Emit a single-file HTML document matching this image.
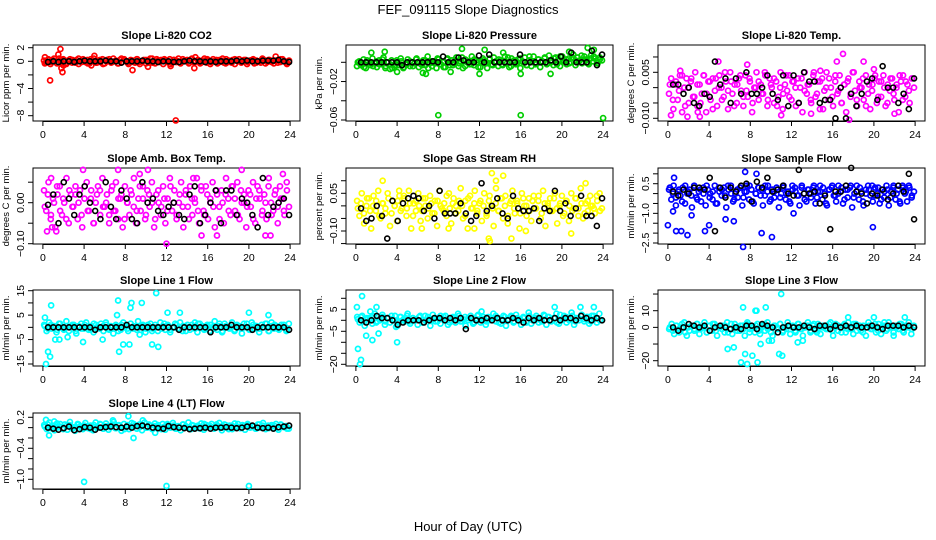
<!DOCTYPE html>
<html><head><meta charset="utf-8">
<style>
html,body{margin:0;padding:0;background:#fff;}
svg{display:block;font-family:"Liberation Sans",Arial,sans-serif;}
</style></head>
<body>
<svg id="chart" width="936" height="540" viewBox="0 0 936 540" xmlns="http://www.w3.org/2000/svg">
<text x="468" y="14" text-anchor="middle" font-size="13">FEF_091115  Slope Diagnostics</text>
<text x="468" y="531" text-anchor="middle" font-size="13">Hour of Day (UTC)</text>
</svg>
<script>
// ---- data (colored = 1-min slopes, black = averaged slopes) ----
const xTicks = [0,4,8,12,16,20,24];
const co2Band = [0.1,-0.2,0.3,-0.4,0.2,0.0,-0.3,0.4,-0.1,0.2,-0.3,0.1,0.3,-0.2,0.0,0.2,-0.4,0.1,0.3,-0.1,0.2,-0.3,0.0,0.4,-0.2,0.1,-0.1,0.3,-0.3,0.2,0.0,-0.2,0.4,0.1,-0.3,0.2,-0.1,0.3,0.0,-0.4,0.2,0.1,-0.2,0.3,-0.1,0.0,0.2,-0.3,0.1,0.4,-0.2,0.0,0.3,-0.1,0.2,-0.4,0.1,0.0,0.3,-0.2,0.2,-0.1,0.4,-0.3,0.0,0.1,0.2,-0.2,0.3,-0.1,0.0,0.2,-0.3,0.1,0.4,-0.2,0.1,-0.1,0.3,0.0,-0.3,0.2,0.1,-0.2,0.3,-0.1,0.0,0.2,-0.4,0.1,0.3,-0.2,0.0,0.2,-0.1,0.1,0.2,-0.3,0.1,0.0,-0.2,0.3,0.1,-0.1,0.2,0.0,-0.3,0.1,0.2,-0.1,0.3,0.0,-0.2,0.1];
const co2Band2 = [-0.3,0.2,-0.1,0.4,-0.2,0.1,0.3,-0.4,0.0,0.2,-0.2,0.4,-0.1,0.1,-0.3,0.3,0.0,-0.2,0.2,-0.4,0.1,0.3,-0.1,0.0,-0.3,0.4,0.2,-0.2,0.1,-0.1,0.3,-0.4,0.0,0.2,-0.2,0.4,-0.3,0.1,0.0,0.3,-0.1,-0.4,0.2,0.1,-0.2,0.3,0.0,-0.3,0.4,-0.1,0.2,-0.2,0.1,0.3,-0.4,0.0,0.2,-0.1,0.4,-0.3,0.1,-0.2,0.3,0.0,-0.1,0.2,-0.4,0.1,0.3,-0.2,0.0,0.4,-0.3,0.2,-0.1,0.1,-0.2,0.3,0.0,-0.4];
const co2OutT = [0.2,0.7,1.5,1.7,1.8,1.9,5.0,8.7,10.2,12.9,12.4,14.8,22.6,14.7,2.0,4.7];
const co2OutV = [0.6,-2.8,1.0,1.8,-1.0,-1.6,0.8,-1.3,-0.8,-8.7,-0.7,0.6,0.7,-1.0,-0.6,-0.6];
const co2Black = [-0.1,0.0,-0.1,0.0,0.0,-0.1,0.0,0.1,0.0,0.0,0.0,0.1,0.0,0.0,-0.2,0.0,0.0,0.0,0.1,0.0,0.0,-0.1,0.0,0.0,-0.1,-0.1,0.0,0.1,0.0,0.0,-0.1,0.0,-0.1,0.0,0.0,0.0,0.1,0.0,0.1,0.0,0.0,0.1,0.1,0.1,0.2,0.0,-0.1];

const presBand = [-0.004,0.001,-0.002,0.003,-0.006,0.000,-0.003,0.004,-0.001,-0.005,0.002,-0.002,0.005,-0.004,0.000,-0.007,-0.006,-0.005,0.002,-0.003,0.001,-0.006,-0.002,0.003,-0.004,0.000,-0.001,0.004,-0.005,-0.002,0.002,-0.003,0.006,-0.001,-0.004,0.001,-0.006,0.003,-0.002,0.000,-0.005,0.004,-0.003,0.002,-0.001,0.005,-0.004,0.001,-0.006,0.003,0.000,-0.002,0.006,-0.003,0.002,-0.005,0.001,0.004,-0.001,-0.006,0.003,-0.002,0.005,0.000,-0.004,0.002,-0.003,0.006,-0.001,-0.005,0.004,0.000,-0.002,0.003,-0.006,0.001,0.005,-0.003,0.002,-0.004,0.006,-0.001,0.003,-0.005,0.001,0.004,-0.002,0.007,0.000,-0.003,0.005,0.002,-0.004,0.006,0.001,-0.002,0.004,0.000,0.008,-0.003,0.005,0.002,-0.001,0.006,0.003,-0.002,0.007,0.001,0.004,-0.001,0.005,0.002];
const presBand2 = [0.000,-0.003,-0.005,0.002,-0.001,-0.004,0.001,-0.002,0.003,-0.006,0.000,0.002,-0.003,-0.001,0.004,-0.005,-0.002,0.001,-0.004,0.003,0.000,-0.003,0.002,-0.006,0.001,-0.001,0.004,-0.002,-0.005,0.003,0.000,-0.003,0.002,-0.001,0.005,-0.004,0.001,-0.002,0.003,0.000,-0.005,0.002,-0.001,0.004,-0.003,0.001,0.003,-0.002,0.000,0.005,-0.004,0.002,-0.001,0.004,0.000,-0.003,0.006,0.001,-0.002,0.003,0.000,0.005,-0.001,0.002,0.004,-0.002,0.006,0.001,0.003,-0.001,0.005,0.002,0.000,0.007,0.003,-0.001,0.004,0.006,0.001,0.003];
const presOutT = [8.0,16.0,24.0,1.5,2.8,10.3,12.5,22.5,4.0,6.8,12.0,16.0,18.9,9.2,14.3,20.7,6.5,23.1];
const presOutV = [-0.055,-0.055,-0.058,0.010,0.011,0.014,0.013,0.015,-0.010,-0.012,-0.012,-0.012,-0.012,-0.010,0.010,0.011,-0.011,0.013];
const presBlack = [0.000,0.000,0.000,0.000,0.000,0.000,0.000,0.000,-0.003,0.000,0.000,0.000,0.000,0.000,0.001,0.000,0.006,0.000,0.000,0.005,0.002,0.000,0.000,0.007,0.000,0.008,0.000,0.000,0.000,0.000,0.000,0.008,0.000,0.000,0.000,0.000,0.000,0.002,0.000,0.006,0.000,0.010,0.000,0.000,0.000,0.012,-0.003,0.008];

const tempBand = [-0.002,0.003,-0.007,0.001,-0.004,0.004,-0.008,0.000,0.003,-0.005,0.002,-0.003,0.005,-0.006,0.001,-0.002,0.004,-0.008,0.002,-0.004,0.003,-0.001,-0.006,0.004,0.000,-0.003,0.002,-0.007,0.005,-0.002,0.001,-0.005,0.003,-0.001,-0.006,0.004,-0.003,0.002,-0.008,0.000,0.005,-0.004,0.001,-0.002,0.004,-0.006,0.003,0.000,-0.005,0.002,-0.003,0.005,-0.007,0.001,-0.001,0.004,-0.004,0.002,-0.006,0.003,0.000,-0.008,0.005,-0.002,0.001,-0.005,0.004,-0.003,0.002,-0.007,0.003,-0.001,0.005,-0.004,0.000,-0.006,0.002,-0.002,0.004,-0.005,0.001,-0.008,0.003,-0.003,0.005,-0.001,-0.006,0.002,0.000,-0.004,0.004,-0.002,-0.007,0.001,0.003,-0.005,0.002,-0.003,0.004,-0.006,0.001,-0.001,0.003,-0.004,0.000,-0.008,0.002,0.004,-0.003,0.001,-0.005,0.003,0.000];
const tempBand2 = [0.001,-0.004,0.002,-0.001,0.004,-0.006,0.000,0.003,-0.003,0.001,-0.005,0.004,-0.002,0.002,-0.007,0.003,0.000,-0.004,0.005,-0.001,0.002,-0.006,0.001,0.004,-0.003,-0.001,0.003,-0.005,0.000,0.002,-0.002,0.005,-0.004,0.001,0.003,-0.006,0.000,-0.002,0.004,-0.003,0.002,0.000,-0.005,0.003,-0.001,0.001,-0.004,0.005,-0.002,0.002,-0.007,0.000,0.003,-0.003,0.004,-0.001,-0.005,0.001,0.002,-0.002,0.005,-0.004,0.000,0.003,-0.006,0.001,-0.001,0.004,-0.003,0.002,0.000,-0.005,0.003,-0.002,0.001,0.004,-0.004,0.002,-0.001,0.003];
const tempOutT = [4.9,7.7,17.0,16.4,19.0,1.9,3.1,17.6,1.2,14.8,2.9,20.0,11.0,13.9,22.0,0.3];
const tempOutV = [0.0085,0.0075,0.011,0.0085,0.0085,-0.0095,-0.0095,-0.0105,0.0055,0.0055,-0.008,0.0060,-0.009,-0.0085,-0.0085,-0.009];
const tempBlack = [0.001,0.001,-0.002,0.000,-0.005,-0.006,-0.002,-0.003,0.0085,0.001,0.003,-0.005,0.003,-0.002,0.005,-0.002,-0.002,0.000,0.004,-0.002,-0.004,0.004,-0.006,0.004,-0.005,0.005,0.002,0.002,-0.005,-0.004,-0.004,-0.010,0.000,-0.010,-0.002,-0.006,-0.002,0.002,0.003,-0.004,0.007,0.000,0.000,-0.005,-0.002,-0.007,0.003];

const ambBand = [0.03,-0.02,0.05,-0.04,0.01,-0.06,0.02,0.04,-0.03,0.00,0.06,-0.05,0.02,-0.01,0.04,-0.04,0.03,-0.06,0.01,0.05,-0.02,0.03,-0.05,0.00,0.04,-0.03,0.06,-0.01,0.02,-0.05,0.03,-0.02,0.05,-0.04,0.01,-0.06,0.04,0.00,-0.03,0.02,0.06,-0.05,0.01,-0.02,0.04,-0.04,0.03,-0.01,0.05,-0.06,0.02,0.00,-0.03,0.04,-0.05,0.01,0.06,-0.02,0.03,-0.04,0.00,0.05,-0.06,0.02,-0.01,0.04,-0.03,0.01,0.06,-0.05,0.03,-0.02,0.04,-0.04,0.00,0.05,-0.06,0.02,-0.01,0.03,-0.05,0.06,0.01,-0.03,0.04,-0.02,0.05,-0.04,0.00,0.02,-0.06,0.03,-0.01,0.05,-0.05,0.04,0.01,-0.03,0.02,-0.04,0.06,0.00,-0.02,0.03,-0.05,0.04,0.01,-0.03,0.05,-0.01];
const ambBand2 = [-0.01,0.02,-0.03,0.00,0.04,-0.02,0.01,-0.04,0.03,-0.01,0.02,0.00,-0.03,0.04,-0.02,0.01,-0.05,0.02,0.03,-0.01,0.00,-0.03,0.04,-0.02,0.01,0.02,-0.04,0.00,0.03,-0.01,-0.02,0.04,0.01,-0.03,0.02,0.00,-0.04,0.03,-0.01,0.01,-0.02,0.04,0.00,-0.03,0.02,-0.01,0.03,-0.04,0.01,0.00,-0.02,0.04,-0.03,0.02,0.01,-0.01,0.03,-0.04,0.00,0.02,-0.02,0.04,0.01,-0.03,0.03,0.00,-0.01,0.02,-0.04,0.01,0.03,-0.02,0.00,0.04,-0.03,0.02,-0.01,0.01,-0.02,0.03];
const ambOutT = [0.4,0.8,1.3,3.9,7.3,12.0,10.2,15.4,16.9,21.6,22.1,23.3,0.9,19.3,14.6,9.4];
const ambOutV = [-0.07,0.06,-0.07,0.08,0.08,-0.10,0.08,-0.08,-0.08,-0.08,-0.08,0.07,-0.06,0.08,0.06,0.07];
const ambBlack = [-0.005,0.02,-0.05,0.05,0.01,-0.03,0.02,0.04,0.00,-0.02,-0.04,0.05,-0.01,-0.04,0.03,0.01,-0.04,-0.05,0.05,0.00,0.01,-0.02,-0.03,-0.01,0.00,-0.03,-0.04,0.02,0.04,-0.05,-0.03,0.00,0.03,-0.05,0.03,0.03,-0.03,0.01,0.00,-0.03,-0.06,0.06,-0.03,-0.01,0.00,0.01,-0.03];

const rhBand = [0.02,-0.04,0.05,-0.07,0.00,0.03,-0.09,0.04,-0.02,0.06,-0.05,0.01,-0.03,0.05,-0.08,0.02,0.00,-0.06,0.04,-0.01,0.03,-0.04,0.06,-0.09,0.01,-0.02,0.05,-0.06,0.03,0.00,-0.05,0.04,-0.03,0.02,-0.08,0.06,-0.01,0.01,-0.04,0.05,-0.07,0.03,0.00,-0.02,0.07,-0.05,0.02,-0.09,0.04,-0.01,0.06,-0.03,0.01,-0.06,0.05,-0.04,0.02,0.00,-0.08,0.07,-0.02,0.03,-0.05,0.04,-0.07,0.01,0.06,-0.03,0.02,-0.09,0.05,0.00,-0.04,0.03,-0.06,0.04,-0.01,0.02,-0.05,0.06,-0.08,0.01,0.03,-0.02,0.05,-0.07,0.00,0.04,-0.03,0.02,-0.06,0.05,-0.01,0.03,-0.04,0.07,-0.05,0.01,-0.02,0.04,0.00,-0.03,0.02,0.05,-0.01];
const rhBand2 = [-0.01,0.01,-0.03,0.03,-0.02,0.00,0.02,-0.04,0.01,-0.01,0.03,-0.03,0.00,0.02,-0.02,0.04,-0.01,0.01,-0.04,0.02,0.00,-0.02,0.03,-0.01,0.01,-0.03,0.02,0.00,-0.02,0.04,-0.01,0.01,-0.03,0.02,0.00,-0.04,0.03,-0.01,0.01,-0.02,0.02,0.00,-0.03,0.04,-0.01,0.01,-0.02,0.03,0.00,-0.04,0.02,-0.01,0.01,-0.03,0.03,0.00,-0.02,0.02,-0.01,0.04,-0.03,0.01,0.00,-0.02,0.03,-0.01,0.01,-0.04,0.02,0.00,-0.02,0.03,-0.01,0.01,-0.03,0.02,0.00,-0.01,0.04,-0.02];
const rhOutT = [2.6,13.2,13.6,12.9,13.0,15.1,14.3,20.9,16.5,9.0,6.4,11.5,4.2,22.3];
const rhOutV = [0.10,0.13,0.10,-0.13,-0.14,-0.13,0.12,-0.11,-0.10,-0.09,-0.09,-0.09,0.06,0.09];
const rhBlack = [-0.01,-0.06,-0.05,0.00,-0.04,-0.13,0.02,-0.06,0.01,0.03,0.04,0.03,-0.02,0.00,-0.05,0.06,-0.03,-0.03,-0.03,0.01,-0.03,-0.06,-0.04,0.09,-0.02,0.00,0.03,-0.03,-0.05,0.04,-0.01,-0.02,-0.02,-0.01,-0.06,-0.01,-0.02,0.06,-0.02,0.01,-0.04,-0.01,0.04,-0.04,-0.04,-0.08,0.03];

const sfBand = [0.2,-0.3,0.4,-0.6,0.1,-0.1,0.3,-0.5,0.0,0.2,-0.7,0.4,-0.2,0.1,-0.4,0.3,-0.6,0.2,0.0,-0.3,0.4,-0.5,0.1,-0.1,0.3,-0.7,0.2,0.4,-0.4,0.0,-0.2,0.3,-0.6,0.1,0.4,-0.3,0.2,-0.5,0.0,0.3,-0.1,-0.6,0.4,0.1,-0.4,0.2,-0.2,0.3,-0.7,0.0,0.4,-0.3,0.1,-0.5,0.2,0.3,-0.1,-0.6,0.4,0.0,-0.4,0.2,-0.2,0.3,-0.5,0.1,0.4,-0.3,0.0,-0.6,0.2,0.3,-0.1,-0.4,0.4,0.1,-0.5,0.2,-0.2,0.3,-0.7,0.0,0.4,-0.3,0.1,-0.6,0.2,0.4,-0.1,-0.4,0.3,0.0,-0.5,0.2,-0.2,0.4,-0.6,0.1,0.3,-0.3,0.2,-0.5,0.4,0.0,-0.4,0.3,-0.2,0.1];
const sfBand2 = [0.3,0.0,-0.2,0.2,-0.4,0.4,0.1,-0.1,0.3,-0.3,0.2,0.0,0.4,-0.2,0.1,-0.5,0.3,0.2,-0.1,0.4,0.0,-0.3,0.2,0.3,-0.2,0.1,0.4,-0.4,0.0,0.3,0.2,-0.1,0.4,-0.3,0.1,0.2,-0.2,0.3,0.0,-0.4,0.4,0.1,-0.1,0.3,-0.3,0.2,0.0,0.4,-0.2,0.1,0.3,-0.5,0.2,0.4,-0.1,0.0,0.3,-0.3,0.2,0.4,-0.2,0.1,0.3,-0.4,0.0,0.2,0.4,-0.1,0.3,-0.3,0.1,0.2,-0.2,0.4,0.0,-0.4,0.3,0.1,0.4,-0.1];
const sfOutT = [0.0,0.5,0.8,1.3,1.9,7.3,7.5,8.6,10.1,9.1,3.6,4.0,0.6,2.3,6.4,5.6,19.9,12.2];
const sfOutV = [-1.6,-0.9,-1.9,-1.9,-2.1,-2.7,1.1,1.0,-2.2,-2.0,-1.9,-1.6,0.8,-1.1,-1.4,-1.3,-1.7,-1.0];
const sfBlack = [0.1,-0.1,0.2,0.0,0.3,0.3,0.2,0.8,-1.9,0.3,-0.2,0.3,0.1,0.4,0.5,-0.4,0.6,0.3,0.8,0.1,0.2,0.4,0.0,-0.1,1.2,0.0,0.0,0.1,-0.5,-0.1,-1.8,0.1,0.1,0.4,1.3,0.1,0.0,-0.5,0.0,-0.1,0.2,-0.3,0.0,0.4,0.1,1.0,-1.3];

const l1Band = [1.0,-1.5,2.0,-0.5,0.5,-2.0,1.5,0.0,-1.0,2.5,-1.5,0.5,1.0,-2.5,0.0,1.5,-0.5,2.0,-1.0,0.5,-2.0,1.0,0.0,1.5,-1.5,2.0,-0.5,0.5,-2.5,1.0,0.0,-1.0,2.0,0.5,-1.5,1.5,-0.5,0.0,2.5,-1.0,0.5,-2.0,1.0,1.5,-0.5,0.0,-1.5,2.0,0.5,-1.0,1.0,-2.0,0.0,1.5,-0.5,2.0,-1.5,0.5,1.0,-1.0,0.0,2.0,-2.0,1.5,0.5,-0.5,1.0,-1.5,0.0,2.5,-1.0,0.5,-2.0,1.5,0.0,-0.5,2.0,-1.5,1.0,0.5,-2.5,0.0,1.5,-1.0,2.0,-0.5,0.5,-2.0,1.0,0.0,1.5,-1.5,2.0,-0.5,0.5,-1.0,1.0,0.0,-1.5,1.5];
const l1Band2 = [0.5,-0.5,1.0,0.0,-1.0,1.5,-0.5,0.5,0.0,1.0,-1.5,0.5,-0.5,1.0,0.0,-1.0,1.5,0.0,-0.5,0.5,1.0,-1.0,0.0,0.5,-1.5,1.0,0.0,-0.5,1.5,0.5,-1.0,0.0,1.0,-0.5,0.5,-1.5,1.0,0.0,-0.5,1.5,0.5,-1.0,0.0,1.0,-0.5,0.5,-1.5,0.0,1.0,-0.5,1.5,0.0,-1.0,0.5,1.0,-0.5,0.0,1.5,-1.5,0.5,0.0,1.0,-1.0,0.5,-0.5,1.5,0.0,-1.0,1.0,0.5,-0.5,0.0,1.5,-1.5,0.5,1.0,-0.5,0.0,1.0,-1.0];
const l1OutT = [0.2,0.5,0.3,0.7,0.8,1.6,2.4,7.3,7.4,8.5,8.6,9.6,11.0,10.6,11.2,7.2,7.8,8.4,12.1,13.3,20.0,21.9,3.9,5.8,1.2,9.4];
const l1OutV = [4,-10,-15,-12,9,-5,-4,11,-10,8,10,10,14,-7,-8,5,-7,-7,6,6,6,5,-6,-5,-5,-3];
const l1Black = [0,0,0,0,0,0,0,0,0,-1,0,0,0,0,0,1,0,0,0,0,0,0,0,0,0,-1,0,0,0,0,0,-2,0,0,0,1,0,0,0,-1,0,0,0,0,0,0,-1];

const l2Band = [1.5,-1.0,2.0,-2.5,0.5,1.0,-1.5,3.0,-0.5,0.0,2.5,-2.0,1.0,-1.0,0.5,2.0,-2.5,1.5,0.0,-0.5,3.0,-1.5,1.0,0.5,-2.0,2.0,-1.0,0.0,1.5,-2.5,2.5,-0.5,1.0,-1.5,0.5,2.0,-2.0,0.0,1.5,-1.0,3.0,-0.5,0.5,-2.5,1.0,2.0,-1.5,0.0,2.5,-1.0,0.5,-2.0,1.5,0.0,3.0,-0.5,1.0,-1.5,2.0,-2.5,0.5,1.5,-1.0,2.5,0.0,-2.0,1.0,-0.5,3.5,-1.5,0.5,2.0,-1.0,0.0,2.5,-2.0,1.5,-0.5,1.0,3.0,-1.5,0.0,2.0,-1.0,0.5,3.5,-2.0,1.0,0.0,2.5,-0.5,1.5,-1.5,2.0,0.5,-1.0,3.0,0.0];
const l2Band2 = [0.5,1.5,-0.5,1.0,0.0,2.0,-1.0,0.5,1.5,-0.5,1.0,2.0,0.0,-1.0,1.5,0.5,2.0,-0.5,1.0,0.0,1.5,-1.0,2.0,0.5,0.0,1.0,-0.5,2.0,1.5,0.0,-1.0,1.0,0.5,2.0,-0.5,1.5,0.0,1.0,-1.0,2.0,0.5,1.5,-0.5,0.0,1.0,2.0,-1.0,0.5,1.5,0.0,2.0,-0.5,1.0,0.5,1.5,-1.0,2.0,0.0,1.0,0.5,-0.5,2.0,1.5,0.0,1.0,-1.0,2.5,0.5,1.5,0.0,2.0,-0.5,1.0,2.5,0.5,1.5,-0.5,2.0,1.0,0.0];
const l2OutT = [0.1,0.2,0.4,0.5,0.6,1.0,1.4,1.6,2.0,2.2,4.0,3.9,19.3,21.8,23.1,12.2];
const l2OutV = [6,-13,-20,-18,11,-7,4,-9,6,-6,-10,-3,6,6,6,4];
const l2Black = [0,-1,0,2,1,1,0,-2,-1,0,0,0,-1,0,1,1,0,1,0,1,-4,1,0,0,1,0,1,0,0,1,0,-1,1,0,1,0,0,1,0,1,1,0,2,1,0,1,0];

const l3Band = [-1,2,-4,1,-3,0,3,-5,-2,1,-1,2,-4,0,3,-3,1,-2,2,-5,0,1,-3,3,-1,-4,2,0,-2,1,-5,3,-1,0,-3,2,-4,1,-2,3,0,-5,1,-1,2,-3,0,3,-4,1,-2,2,-1,-5,0,3,-3,1,-2,2,-4,0,1,-1,3,-5,2,-2,0,1,-3,3,-1,-4,2,0,-2,1,-5,3,-1,0,-3,2,-4,1,-2,3,0,-5,1,-1,2,-3,0,3,-4,1];
const l3Band2 = [0,-2,1,-1,2,-3,0,1,-2,2,-1,0,-3,1,2,-2,0,-1,1,-3,2,0,-2,1,-1,2,-3,0,1,-2,0,2,-1,-3,1,0,2,-2,-1,1,0,-3,2,-1,0,1,-2,2,-3,0,1,-1,2,-2,0,1,-3,2,-1,0,2,-2,1,-3,0,1,-1,2,-2,0,3,-1,1,-3,0,2,-2,1,0,-1];
const l3OutT = [7.3,7.5,7.7,8.2,8.5,8.7,9.0,9.5,9.8,10.8,11.0,11.1,5.8,7.1,8.6,12.6,13.1,17.5,20.0,23.0,6.4,10.1];
const l3OutV = [12,-16,-22,-17,10,-21,-10,12,-8,-16,20,-17,-13,-21,10,-9,-8,6,6,6,-12,-8];
const l3Black = [0,-2,0,2,1,0,1,-2,0,1,0,-1,0,-1,1,1,-1,2,1,0,-3,0,1,0,0,1,0,-1,1,1,-1,1,0,1,0,1,0,0,1,0,-1,1,1,1,0,1,0];

const l4Band = [0.05,-0.03,0.10,0.00,-0.05,0.08,0.02,-0.02,0.06,-0.04,0.11,0.01,-0.06,0.07,0.03,-0.03,0.09,-0.01,0.04,-0.05,0.10,0.00,0.06,-0.02,0.08,-0.04,0.02,0.11,-0.01,0.05,-0.06,0.07,0.01,-0.03,0.09,0.03,-0.02,0.06,-0.05,0.10,0.00,0.04,-0.03,0.08,0.02,-0.01,0.07,-0.04,0.05,0.01,0.09,-0.02,0.03,-0.05,0.06,0.00,0.10,-0.03,0.04,0.02,-0.01,0.08,-0.04,0.05,0.01,0.07,-0.02,0.03,0.09,-0.05,0.06,0.00,0.04,-0.03,0.08,0.02,-0.01,0.05,-0.04,0.07,0.01,0.03,-0.02,0.06,0.00,0.09,-0.03,0.04,0.02,-0.01,0.07,-0.04,0.05,0.01,0.03,-0.02];
const l4Band2 = [0.02,0.06,-0.01,0.04,0.00,0.07,-0.03,0.03,0.05,-0.02,0.01,0.06,-0.01,0.04,0.02,-0.03,0.05,0.00,0.07,-0.02,0.03,0.01,0.06,-0.01,0.04,0.00,-0.03,0.05,0.02,0.07,-0.02,0.01,0.04,0.00,0.06,-0.01,0.03,0.05,-0.03,0.02,0.07,0.00,0.04,-0.02,0.01,0.06,0.03,-0.01,0.05,0.00,0.04,-0.02,0.07,0.01,0.03,-0.01,0.06,0.02,0.00,0.05,-0.03,0.04,0.01,0.07,-0.01,0.03,0.05,0.00,0.02,-0.02,0.06,0.04,0.01,-0.01,0.05,0.03,0.00,0.06,0.02,-0.02];
const l4OutT = [4.0,12.0,20.0,0.6,8.8,8.3,0.3,1.1,10.9,9.7,6.8];
const l4OutV = [-1.05,-1.13,-1.13,-0.15,-0.20,0.22,0.15,0.12,-0.10,0.14,0.14];
const l4Black = [0.00,-0.02,-0.04,-0.01,0.02,-0.05,-0.03,0.01,0.00,-0.04,0.00,0.01,0.02,0.01,0.00,0.02,0.00,0.03,0.04,0.02,0.00,-0.01,-0.02,0.03,0.01,0.00,-0.01,-0.03,-0.02,-0.01,0.00,-0.02,0.00,0.00,0.01,0.00,-0.01,0.00,0.02,0.04,0.00,-0.01,0.00,-0.02,0.01,0.02,0.04];

// ---- layout ----
const NS = 'http://www.w3.org/2000/svg';
const svg = document.getElementById('chart');
const colX = [33,346,658], rowY = [45,168,290,413], PW = 267, PH = 76;
const panels = [
 {key:'co2',title:'Slope Li-820 CO2',ylab:'Licor ppm per min.',c:0,r:0,col:'#ff0000',ref:[2,47.7,-8,115.7],ticks:[2,0,-2,-4,-6,-8],labels:[2,0,-4,-8],fmt:v=>String(v),band:co2Band,band2:co2Band2,ot:co2OutT,ov:co2OutV,blk:co2Black},
 {key:'pressure',title:'Slope Li-820 Pressure',ylab:'kPa per min.',c:1,r:0,col:'#00cd00',ref:[0,62.3,-0.06,120],ticks:[0,-0.02,-0.04,-0.06],labels:[-0.02,-0.06],fmt:v=>v.toFixed(2),band:presBand,band2:presBand2,ot:presOutT,ov:presOutV,blk:presBlack},
 {key:'temp',title:'Slope Li-820 Temp.',ylab:'degrees C per min.',c:2,r:0,col:'#ff00ff',ref:[0.005,72.3,-0.010,118.3],ticks:[0.010,0.005,0,-0.005,-0.010],labels:[0.005,-0.010],fmt:v=>v.toFixed(3),band:tempBand,band2:tempBand2,ot:tempOutT,ov:tempOutV,blk:tempBlack},
 {key:'ambbox',title:'Slope Amb. Box Temp.',ylab:'degrees C per min.',c:0,r:1,col:'#ff00ff',ref:[0,202.7,-0.10,243.7],ticks:[0.05,0,-0.05,-0.10],labels:[0,-0.10],fmt:v=>v.toFixed(2),band:ambBand,band2:ambBand2,ot:ambOutT,ov:ambOutV,blk:ambBlack},
 {key:'rh',title:'Slope Gas Stream RH',ylab:'percent per min.',c:1,r:1,col:'#ffff00',ref:[0.05,193.3,-0.10,231],ticks:[0.10,0.05,0,-0.05,-0.10,-0.15],labels:[0.05,-0.10],fmt:v=>v.toFixed(2),band:rhBand,band2:rhBand2,ot:rhOutT,ov:rhOutV,blk:rhBlack},
 {key:'sampleflow',title:'Slope Sample Flow',ylab:'ml/min per min.',c:2,r:1,col:'#0000ff',ref:[0.5,183.7,-2.5,243],ticks:[1,0.5,0,-0.5,-1,-1.5,-2,-2.5],labels:[0.5,-1.0,-2.5],fmt:v=>v.toFixed(1),band:sfBand,band2:sfBand2,ot:sfOutT,ov:sfOutV,blk:sfBlack},
 {key:'line1',title:'Slope Line 1 Flow',ylab:'ml/min per min.',c:0,r:2,col:'#00ffff',ref:[15,290.7,-15,364],ticks:[15,10,5,0,-5,-10,-15],labels:[15,5,-5,-15],fmt:v=>String(v),band:l1Band,band2:l1Band2,ot:l1OutT,ov:l1OutV,blk:l1Black},
 {key:'line2',title:'Slope Line 2 Flow',ylab:'ml/min per min.',c:1,r:2,col:'#00ffff',ref:[5,309.3,-20,364.3],ticks:[10,5,0,-5,-10,-15,-20],labels:[5,-5,-20],fmt:v=>String(v),band:l2Band,band2:l2Band2,ot:l2OutT,ov:l2OutV,blk:l2Black},
 {key:'line3',title:'Slope Line 3 Flow',ylab:'ml/min per min.',c:2,r:2,col:'#00ffff',ref:[10,310.7,-20,360.7],ticks:[20,10,0,-10,-20],labels:[10,0,-20],fmt:v=>String(v),band:l3Band,band2:l3Band2,ot:l3OutT,ov:l3OutV,blk:l3Black},
 {key:'line4',title:'Slope Line 4 (LT) Flow',ylab:'ml/min per min.',c:0,r:3,col:'#00ffff',ref:[0.2,417.3,-1.0,479.3],ticks:[0.2,0,-0.2,-0.4,-0.6,-0.8,-1.0],labels:[0.2,-0.4,-1.0],fmt:v=>v.toFixed(1),band:l4Band,band2:l4Band2,ot:l4OutT,ov:l4OutV,blk:l4Black}
];
function mk(tag, attrs, parent){
  const e = document.createElementNS(NS, tag);
  for (const k in attrs) e.setAttribute(k, attrs[k]);
  (parent||svg).appendChild(e);
  return e;
}
function fmtLab(v,f){ return f(v).replace('-','\u2212'); }
panels.forEach(p=>{
  const L = colX[p.c], T = rowY[p.r], B = T+PH, R = L+PW;
  const xs = t => L + (t+0.96)*PW/25.92;
  const [v1,p1,v2,p2] = p.ref;
  const ys = v => p1 + (v-v1)*(p2-p1)/(v2-v1);
  const g = mk('g',{});
  
  
  const title = mk('text',{x:(L+R)/2,y:T-6,'text-anchor':'middle','font-size':'11','font-weight':'bold'},g);
  
  
  title.textContent = p.title;
  const frame = mk('rect',{x:L,y:T,width:PW,height:PH,fill:'none',stroke:'#000','stroke-width':1},g);
  
  
  p.ticks.forEach(v=>{
    const tk = mk('line',{x1:L-5,x2:L,y1:ys(v),y2:ys(v),stroke:'#000'},g);
    
    
  });
  p.labels.forEach(v=>{
    const y = ys(v);
    const t = mk('text',{x:0,y:0,transform:`translate(${L-9},${y}) rotate(-90)`,'text-anchor':'middle','font-size':'10.5'},g);
    
    
    t.textContent = fmtLab(v,p.fmt);
  });
  const yl = mk('text',{x:0,y:0,transform:`translate(${L-24},${T+PH/2}) rotate(-90)`,'text-anchor':'middle','font-size':'9.5'},g);
  
  
  yl.textContent = p.ylab;
  const xl = mk('line',{x1:xs(0),x2:xs(24),y1:B+0.5,y2:B+0.5,stroke:'#000'},g);
  
  
  xTicks.forEach(v=>{
    const tk = mk('line',{x1:xs(v),x2:xs(v),y1:B,y2:B+5,stroke:'#000'},g);
    
    
    const t = mk('text',{x:xs(v),y:B+17,'text-anchor':'middle','font-size':'10.5'},g);
    
    
    t.textContent = v;
  });
  const n = p.band.length;
  p.band.forEach((v,i)=>{
    const c = mk('circle',{cx:xs((i+0.5)*24/n),cy:ys(v),r:2.5,fill:'none',stroke:p.col,'stroke-width':1.7},g);
    
    
  });
  const n2 = p.band2.length;
  p.band2.forEach((v,i)=>{
    const c = mk('circle',{cx:xs(0.1+(i+0.3)*23.8/n2),cy:ys(v),r:2.5,fill:'none',stroke:p.col,'stroke-width':1.7},g);
    
    
  });
  p.ot.forEach((t,i)=>{
    const c = mk('circle',{cx:xs(t),cy:ys(p.ov[i]),r:2.5,fill:'none',stroke:p.col,'stroke-width':1.7},g);
    
    
  });
  const m = p.blk.length;
  p.blk.forEach((v,i)=>{
    const c = mk('circle',{cx:xs(0.5+i*23.4/(m-1)),cy:ys(v),r:2.5,fill:'none',stroke:'#000','stroke-width':1.6},g);
    
    
  });
});
</script>
</body></html>
